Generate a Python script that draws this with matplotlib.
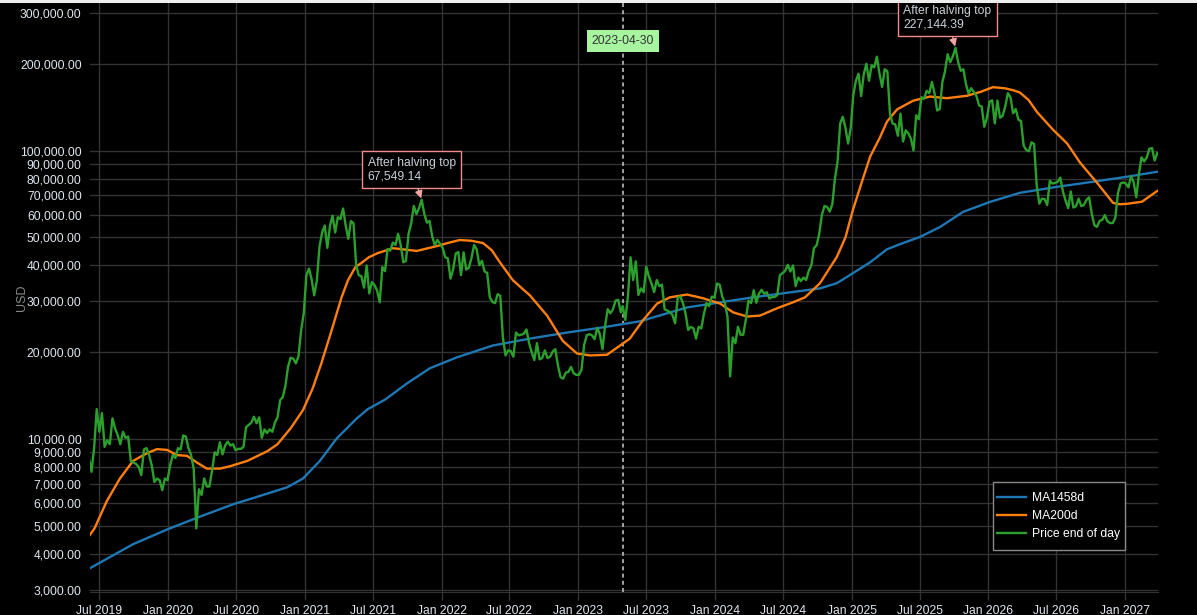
import matplotlib
matplotlib.use("Agg")
import matplotlib.pyplot as plt
import matplotlib.dates as mdates
import matplotlib.transforms as mtransforms
from matplotlib.patches import Rectangle
from matplotlib.ticker import FixedLocator, FuncFormatter, NullLocator
import numpy as np
import pandas as pd

plt.rcParams["font.family"] = ["Liberation Sans", "DejaVu Sans"]

# weekly price end of day, history up to the split date
hist_start = "2019-06-04"
hist_price = [
    # 2019
    8600, 7700, 9300, 12700, 10600, 12300, 9400, 9900, 9600, 11800, 10900, 10300,
    9600, 10600, 10100, 10200, 8400, 8300, 8200, 8000, 7500, 9200, 9300, 8800,
    8100, 7100, 7300, 7200, 6650, 7300, 7200,
    # 2020
    8100, 8800, 8600, 9300, 9200, 10300, 10200, 9300, 8800, 7900, 4900, 6700,
    6400, 7300, 6850, 6850, 7750, 9000, 8800, 9750, 8850, 9500, 9800, 9500,
    9600, 9150, 9250, 9250, 9400, 11000, 11200, 11400, 11950, 11350, 11900, 10100,
    10800, 10500, 10800, 10600, 11400, 11900, 13650, 14000, 15300, 17800, 19150, 19000,
    18300, 19400, 23800, 27300,
    # 2021
    37000, 39000, 35800, 31500, 35500, 46400, 52000, 55000, 46000, 54800, 59500, 52000,
    58800, 57900, 63000, 55000, 49500, 57000, 56000, 40000, 37000, 36700, 33500, 40000,
    32000, 35000, 34200, 32700, 29800, 39500, 38200, 45600, 45000, 48000, 47100, 51500,
    47100, 41000, 41500, 51500, 56000, 64300, 60300, 63200, 67549.14, 60400, 56300, 57000,
    50600, 47000, 49000, 47600,
    # 2022
    46000, 42700, 42300, 36000, 38700, 44000, 44500, 37000, 44400, 38700, 39300, 42400,
    47100, 45500, 40100, 41500, 38100, 37700, 31000, 29900, 29600, 31800, 31400, 22500,
    19500, 20300, 20200, 19300, 23400, 22900, 23000, 23200, 24000, 21500, 20000, 18800,
    21500, 18900, 19100, 20300, 19100, 19300, 20100, 20500, 18000, 16400, 16200, 17000,
    17100, 17800, 16900, 16700,
    # 2023
    16700, 17400, 21200, 22900, 23100, 22900, 22200, 24300, 23100, 20500, 24700, 28200,
    27300, 28200, 30200, 30400, 27500,
]

# weekly projected price after the split date
proj_start = "2023-04-30"
proj_price = [
    28900, 25900, 31200, 42700, 35600, 41300, 31600, 33300, 32300, 39600, 36600, 34600,
    32300, 35600, 33900, 34300, 28200, 27900, 27600, 26900, 25200, 30900, 31200, 29600,
    27200, 23900, 24500, 24200, 22300, 24500, 24200,
    27200, 29600, 28900, 31200, 30900, 34600, 34300, 31200, 29600, 26500, 16500, 22500,
    21500, 24500, 23000, 23000, 26000, 30200, 29600, 32800, 29700, 31900, 32900, 31900,
    32300, 30700, 31100, 31100, 31600, 37000, 37600, 38300, 40200, 38100, 40000, 33900,
    36300, 35300, 36300, 35600, 38300, 40000, 45900, 47000, 51400, 59800, 64300, 63800,
    61500, 65200, 80000, 91700,
    124300, 131000, 120300, 105800, 119300, 155900, 174700, 184800, 154600, 184100, 199900, 174700,
    197600, 194500, 211700, 184800, 166300, 191500, 188200, 134400, 124300, 123300, 112600, 134400,
    107500, 117600, 114900, 109900, 100100, 132700, 128400, 153200, 151200, 161300, 158300, 173000,
    158300, 137800, 139400, 173000, 188200, 216000, 202600, 212400, 227144.39, 202900, 189200, 191500,
    170000, 157900, 164600, 159900,
    154600, 143500, 142100, 121000, 130000, 147800, 149500, 124300, 149200, 130000, 132000, 142500,
    158300, 152900, 134700, 139400, 128000, 126700, 104200, 100500, 99500, 106800, 105500, 75600,
    65500, 68200, 67900, 64800, 78600, 76900, 77300, 78000, 80600, 72200, 67200, 63200,
    72200, 63500, 64200, 68200, 64200, 64800, 67500, 68900, 60500, 55100, 54400, 57100,
    57500, 59800, 56800, 56100,
    56100, 58500, 71200, 76900, 77600, 76900, 74600, 81600, 77600, 68900, 83000, 94800,
    91700, 94800, 101500, 102100, 92400, 98100,
]

ma200_dates = [
    "2019-06-04", "2019-06-19", "2019-07-22", "2019-08-26", "2019-09-30", "2019-11-07",
    "2019-12-03", "2019-12-30", "2020-01-25", "2020-02-21", "2020-03-19", "2020-04-14",
    "2020-05-19", "2020-06-15", "2020-07-31", "2020-09-23", "2020-10-20", "2020-11-24",
    "2020-12-27", "2021-01-22", "2021-02-14", "2021-03-12", "2021-04-09", "2021-04-26",
    "2021-05-16", "2021-05-31", "2021-06-21", "2021-07-14", "2021-08-24", "2021-10-27",
    "2021-12-20", "2022-01-22", "2022-02-19", "2022-03-22", "2022-04-22", "2022-05-15",
    "2022-06-06", "2022-07-11", "2022-08-25", "2022-10-10", "2022-11-21", "2022-12-29",
    "2023-02-02", "2023-03-19", "2023-04-23", "2023-05-19", "2023-06-23", "2023-07-31",
    "2023-09-03", "2023-10-19", "2023-11-30", "2024-01-15", "2024-02-19", "2024-03-27",
    "2024-05-01", "2024-06-15", "2024-07-28", "2024-08-29", "2024-10-08", "2024-11-22",
    "2024-12-15", "2025-01-04", "2025-01-28", "2025-02-19", "2025-03-17", "2025-04-05",
    "2025-05-02", "2025-06-14", "2025-07-29", "2025-09-12", "2025-11-05", "2025-12-12",
    "2026-01-13", "2026-02-14", "2026-03-08", "2026-03-26", "2026-04-18", "2026-05-11",
    "2026-06-23", "2026-07-30", "2026-09-03", "2026-10-18", "2026-11-30", "2026-12-18",
    "2027-01-06", "2027-02-15", "2027-03-28",
]
ma200_values = [
    4600, 4900, 6100, 7300, 8400, 8950,
    9230, 9170, 8800, 8750, 8290, 7900,
    7900, 8050, 8400, 9080, 9600, 10900,
    12600, 15000, 18300, 23500, 31000, 35500,
    39500, 40700, 42700, 44100, 45900, 44900,
    46700, 48000, 49000, 48700, 47800, 45200,
    41000, 35500, 31500, 26800, 21900, 19800,
    19500, 19600, 21100, 22300, 25800, 29500,
    31000, 31700, 30800, 29500, 27500, 26600,
    26800, 28400, 29800, 31000, 34700, 42800,
    50000, 62300, 78000, 95300, 111000, 126000,
    139000, 149000, 154000, 152000, 155000, 160000,
    166000, 164500, 162000, 159000, 150000, 136000,
    118000, 106000, 90800, 77400, 65900, 65200,
    65400, 66500, 72500,
]

ma1458_dates = [
    "2019-06-04", "2019-09-30", "2019-12-30", "2020-03-26", "2020-06-23", "2020-09-21",
    "2020-11-14", "2020-12-27", "2021-02-10", "2021-03-27", "2021-05-20", "2021-06-18",
    "2021-08-03", "2021-10-01", "2021-12-01", "2022-02-11", "2022-05-18", "2022-08-25",
    "2022-12-02", "2023-03-08", "2023-06-15", "2023-10-19", "2024-04-12", "2024-10-08",
    "2024-11-22", "2025-01-04", "2025-02-19", "2025-04-05", "2025-05-10", "2025-07-02",
    "2025-08-25", "2025-10-25", "2026-01-05", "2026-03-26", "2026-07-03", "2026-10-07",
    "2027-01-06", "2027-03-28",
]
ma1458_values = [
    3550, 4320, 4860, 5380, 5940, 6460,
    6800, 7300, 8400, 10050, 11800, 12700,
    13700, 15600, 17600, 19200, 21100, 22300,
    23400, 24400, 25600, 28600, 31000, 33300,
    34700, 37600, 41000, 45500, 47400, 50200,
    54400, 61300, 66400, 71400, 74900, 78000,
    81200, 84500,
]

split_date = "2023-04-30"
y_ticks = [3000, 4000, 5000, 6000, 7000, 8000, 9000, 10000,
           20000, 30000, 40000, 50000, 60000, 70000, 80000, 90000, 100000,
           200000, 300000]

W, H = 1197, 615
TICK_COLOR = "#dfe6ee"
GRID_COLOR = "#333333"

hist_dates = pd.date_range(hist_start, periods=len(hist_price), freq="7D")
proj_dates = pd.date_range(proj_start, periods=len(proj_price), freq="7D")
price_dates = hist_dates.append(proj_dates)
price = np.array(hist_price + proj_price, dtype=float)

fig = plt.figure(figsize=(W / 100, H / 100), dpi=100, facecolor="black")
ax = fig.add_axes([90 / W, 1 - 592 / H, (1158 - 90) / W, (592 - 3) / H])
ax.set_facecolor("black")

ax.plot(pd.to_datetime(ma1458_dates), ma1458_values, color="#1f77b4", lw=1.7,
        label="MA1458d", zorder=2, solid_joinstyle="round")
ax.plot(pd.to_datetime(ma200_dates), ma200_values, color="#ff7f0e", lw=1.7,
        label="MA200d", zorder=2.1, solid_joinstyle="round")
ax.plot(price_dates, price, color="#2ca02c", lw=1.7, label="Price end of day", zorder=2.2)

ax.set_yscale("log")
ax.set_ylim(2950, 325000)
ax.set_xlim(pd.Timestamp("2019-06-07"), pd.Timestamp("2027-03-30"))

ax.yaxis.set_major_locator(FixedLocator(y_ticks))
ax.yaxis.set_minor_locator(NullLocator())
ax.yaxis.set_major_formatter(FuncFormatter(lambda v, p: f"{v:,.2f}"))
ax.xaxis.set_major_locator(mdates.MonthLocator(bymonth=[1, 7]))
ax.xaxis.set_major_formatter(mdates.DateFormatter("%b %Y"))

ax.tick_params(axis="y", length=0, pad=6, labelcolor=TICK_COLOR, labelsize=8.7)
ax.tick_params(axis="x", length=6, width=1, color=GRID_COLOR, pad=3,
               labelcolor=TICK_COLOR, labelsize=8.7)
ax.grid(True, color=GRID_COLOR, lw=1)
ax.set_axisbelow(True)
for side in ["left", "right", "top"]:
    ax.spines[side].set_visible(False)
ax.spines["bottom"].set_color(GRID_COLOR)

# split marker
split = pd.Timestamp(split_date)
ax.axvline(split, color="#b0b0b0", lw=1.3, ls=(0, (2.2, 1.8)), zorder=1.5)
trans = mtransforms.blended_transform_factory(ax.transData, ax.transAxes)
ax.text(split, 0.9355, split_date, transform=trans, ha="center", va="center",
        color="#333333", fontsize=8.7, zorder=6,
        bbox=dict(boxstyle="square,pad=0.4", fc="#a8f5a0", ec="none"))


def mark_top(dates, values, dx, dy):
    i = int(np.argmax(values))
    ax.annotate(f"After halving top\n{values[i]:,.2f}", xy=(dates[i], values[i]),
                xytext=(dx, dy), textcoords="offset pixels", ha="center", va="center",
                multialignment="left", color="#c8d0d8", fontsize=8.7,
                bbox=dict(boxstyle="square,pad=0.45", fc="black", ec="#f08c8c", lw=1),
                arrowprops=dict(arrowstyle="-|>", color="#f4a3a3", mutation_scale=11,
                                shrinkA=0, shrinkB=1),
                annotation_clip=False, zorder=7)


mark_top(hist_dates, hist_price, -10, 30)
mark_top(proj_dates, proj_price, -8, 30)

# legend box drawn separately so its padding matches
lx0, lx1 = (993 - 90) / 1068, (1125 - 90) / 1068
ly0, ly1 = (592 - 550) / 589, (592 - 482) / 589
ax.add_patch(Rectangle((lx0, ly0), lx1 - lx0, ly1 - ly0, transform=ax.transAxes,
                       facecolor="black", edgecolor="#8a8a8a", lw=1, zorder=8))
leg = ax.legend(loc="center", bbox_to_anchor=((lx0 + lx1) / 2, (ly0 + ly1) / 2),
                fontsize=8.7, frameon=False, labelcolor="white", borderpad=0.3,
                labelspacing=0.5, handlelength=2.4, handletextpad=0.5, borderaxespad=0)
leg.set_zorder(9)

fig.text(22 / W, 1 - 298 / H, "USD", rotation=90, color="#888888", fontsize=9,
         ha="center", va="center")

fig.add_artist(Rectangle((0, 1 - 3 / H), 1, 3 / H, transform=fig.transFigure,
                         facecolor="#eeeeee", edgecolor="none", zorder=20))

fig.savefig("out.png", dpi=100, facecolor="black")
